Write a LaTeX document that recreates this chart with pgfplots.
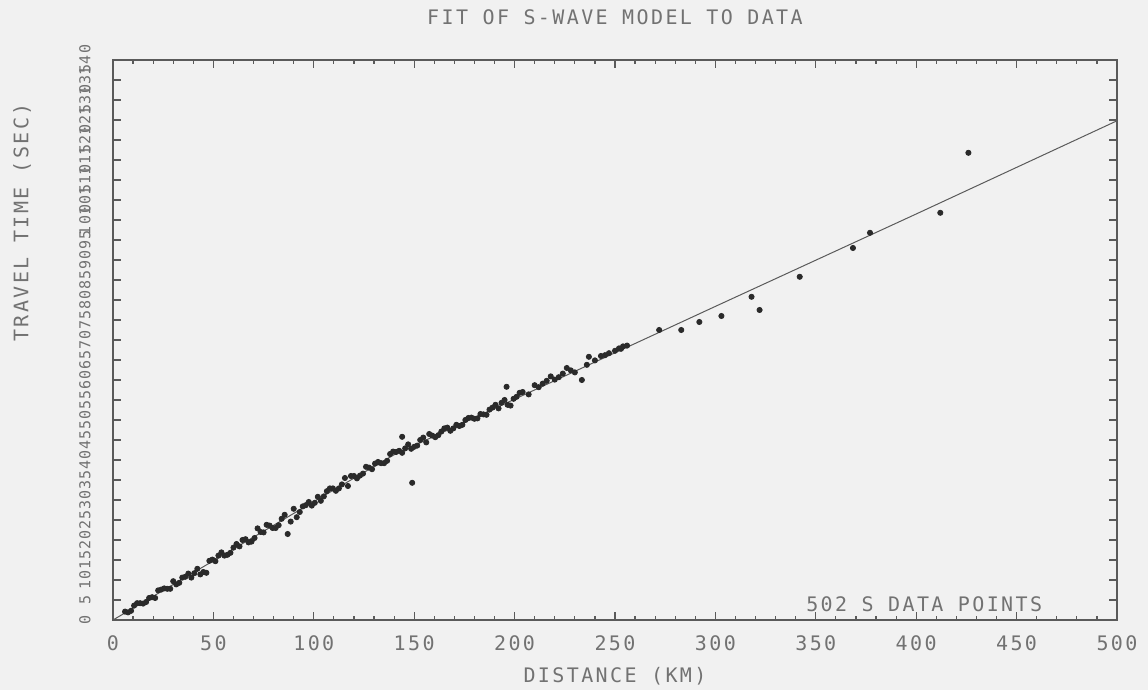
\documentclass[border=0pt]{standalone}
\usepackage{fontspec}
\setmonofont{DejaVu Sans Mono}[LetterSpace=12]
\usepackage{pgfplots}
\pgfplotsset{compat=1.18}
\definecolor{paper}{HTML}{F1F1F1}
\definecolor{ink}{HTML}{727272}
\definecolor{frame}{HTML}{5A5A5A}
\definecolor{dots}{HTML}{2A2A2A}

% observed S arrivals (km, s)
\pgfplotstableread{
x t
6 2.1
9 2.3
12 4.2
15 4.1
18 5.5
21 5.5
24 7.6
27 7.8
30 9.7
33 9.3
36 10.8
39 10.6
42 12.8
45 12.0
48 14.8
51 14.7
54 16.9
57 16.3
60 18.1
63 18.4
66 20.2
69 19.6
72 22.9
75 21.9
78 23.6
81 23.0
84 25.3
87 21.5
90 27.8
93 27.0
96 28.7
99 28.6
102 30.8
105 30.9
108 32.9
111 32.3
114 33.9
117 33.5
120 36.0
123 36.1
126 38.3
129 37.7
132 39.4
135 39.2
138 41.5
141 42.0
144 41.8
147 43.9
150 43.3
153 45.0
156 44.4
159 46.1
162 46.2
165 47.9
168 47.3
171 48.8
174 48.8
177 50.5
180 50.3
183 51.5
186 51.3
189 53.1
192 52.9
195 55.0
198 53.6
201 55.8
204 57.0
207 56.4
210 58.7
214 59.1
218 60.9
222 60.7
226 63.0
230 61.9
247 66.7
250 67.3
253 67.8
256 68.6
7.5 1.9
13.5 4.2
19.5 5.7
25.5 7.9
31.5 8.9
37.5 11.6
43.5 11.4
49.5 15.1
55.5 16.1
61.5 19.0
67.5 19.4
73.5 22.0
79.5 23.0
85.5 26.3
91.5 25.7
97.5 29.5
103.5 29.8
109.5 32.9
115.5 35.5
121.5 35.4
127.5 38.1
133.5 39.2
139.5 42.1
145.5 42.9
151.5 43.6
157.5 46.5
163.5 47.1
169.5 47.9
175.5 50.0
181.5 50.4
187.5 52.6
193.5 54.3
199.5 55.3
10.5 3.6
16.5 4.5
22.5 7.4
28.5 7.8
34.5 10.6
40.5 11.7
46.5 11.8
52.5 16.1
58.5 16.8
64.5 20.0
70.5 20.5
76.5 23.8
82.5 23.7
88.5 24.6
94.5 28.4
100.5 29.3
106.5 32.2
112.5 32.9
118.5 36.0
124.5 36.6
130.5 39.1
136.5 39.8
142.5 42.3
148.5 42.8
154.5 45.6
160.5 45.7
166.5 48.1
172.5 48.5
178.5 50.6
184.5 51.4
190.5 53.8
196.5 53.8
202.5 56.8
212 58.2
216 59.8
220 60.1
224 61.6
228 62.4
236 63.8
240 64.9
245 66.2
252 67.9
254 68.4
132 39.5
149 34.3
144 45.8
196 58.3
237 65.8
243 66.0
233.5 60.0
272 72.5
283 72.5
292 74.5
303 76.0
318 80.8
322 77.5
342 85.8
368.5 93.0
377 96.8
412 101.8
426 116.8
}\obs

% fitted S-wave model
\pgfplotstableread{
x t
0 0
50 14.8
100 29.6
140 41.3
200 55.2
300 78.4
400 101.5
500 124.8
}\model

\begin{document}
\begin{tikzpicture}
\path[use as bounding box, fill=paper] (-56.5pt,-35pt) rectangle (517.5pt,310pt);
\begin{axis}[
  at={(0,0)}, anchor=south west,
  scale only axis,
  width=502pt, height=280pt,
  xmin=0, xmax=500, ymin=0, ymax=140,
  xtick={0,50,...,500},
  ytick={0,5,...,140},
  minor x tick num=4,
  tick align=inside,
  major tick length=4pt,
  minor tick length=2pt,
  axis line style={frame, line width=0.8pt},
  every tick/.style={frame, line width=0.6pt},
  /pgf/number format/assume math mode=true,
  tick label style={color=ink},
  xticklabel style={font=\ttfamily\fontsize{10}{10}\selectfont, yshift=-4.5pt},
  yticklabel style={font=\ttfamily\fontsize{7.5}{7.5}\selectfont, rotate=90, anchor=center},
  yticklabel shift={14pt},
  clip=false,
]
\addplot[frame, line width=0.5pt] table[x=x, y=t] {\model};
\addplot[only marks, mark=*, mark size=1.3pt, dots] table[x=x, y=t] {\obs};
\node[ink, font=\ttfamily\fontsize{10}{10}\selectfont, anchor=base] at (axis cs:404,2) {502 S DATA POINTS};
\node[ink, font=\ttfamily\fontsize{10}{10}\selectfont] at ([yshift=21.5pt]rel axis cs:0.5,1) {FIT OF S-WAVE MODEL TO DATA};
\node[ink, font=\ttfamily\fontsize{10}{10}\selectfont] at ([yshift=-28pt]rel axis cs:0.5,0) {DISTANCE (KM)};
\node[ink, font=\ttfamily\fontsize{10}{10}\selectfont, rotate=90] at ([xshift=-45.5pt]rel axis cs:0,0.71) {TRAVEL TIME (SEC)};
\end{axis}
\end{tikzpicture}
\end{document}
